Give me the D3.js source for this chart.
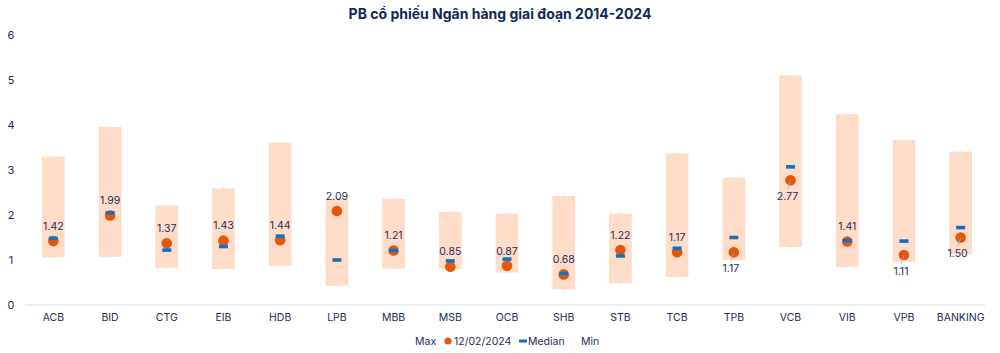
<!DOCTYPE html>
<html>
<head>
<meta charset="utf-8">
<script src="https://cdn.jsdelivr.net/npm/d3@7"></script>
<style>
  body { margin: 0; background: #fff; }
  svg { display: block; font-family: Inter, "Noto Sans", sans-serif; }
</style>
</head>
<body>
<svg id="chart"></svg>
<script>
// Data
const categories = ["ACB", "BID", "CTG", "EIB", "HDB", "LPB", "MBB", "MSB", "OCB", "SHB", "STB", "TCB", "TPB", "VCB", "VIB", "VPB", "BANKING"];
const maxValues = [3.30, 3.96, 2.21, 2.59, 3.61, 2.37, 2.36, 2.07, 2.03, 2.42, 2.03, 3.37, 2.83, 5.10, 4.24, 3.66, 3.41];
const minValues = [1.06, 1.07, 0.83, 0.80, 0.87, 0.43, 0.81, 0.79, 0.72, 0.35, 0.48, 0.62, 1.00, 1.29, 0.85, 0.96, 1.13];
const medianValues = [1.48, 2.05, 1.22, 1.30, 1.53, 1.00, 1.21, 0.98, 1.02, 0.70, 1.09, 1.26, 1.50, 3.07, 1.43, 1.42, 1.72];
const currentValues = [1.42, 1.99, 1.37, 1.43, 1.44, 2.09, 1.21, 0.85, 0.87, 0.68, 1.22, 1.17, 1.17, 2.77, 1.41, 1.11, 1.50];
const yTicks = [0, 1, 2, 3, 4, 5, 6];
const labelsBelow = ["TPB", "VCB", "VPB", "BANKING"];

const width = 1000, height = 353;
const navy = "#1f2d5c";

const svg = d3.select("#chart")
    .attr("width", width)
    .attr("height", height);

// Scales
const x = d3.scaleBand()
    .domain(categories)
    .range([25, 989])
    .paddingInner(0.6)
    .paddingOuter(0.3);

const y = d3.scaleLinear()
    .domain([0, 6])
    .range([305, 35]);

const rows = categories.map((c, i) => ({
    cat: c,
    max: maxValues[i],
    min: minValues[i],
    median: medianValues[i],
    value: currentValues[i],
    below: labelsBelow.includes(c)
}));

// Title
svg.append("text")
    .attr("x", 500)
    .attr("y", 19)
    .attr("text-anchor", "middle")
    .attr("fill", "#14285a")
    .style("font-size", "14px")
    .style("font-weight", "700")
    .text("PB cổ phiếu Ngân hàng giai đoạn 2014-2024");

// Y axis labels (no axis line)
svg.append("g")
    .selectAll("text")
    .data(yTicks)
    .enter()
    .append("text")
    .attr("x", 11)
    .attr("y", d => y(d))
    .attr("dy", "0.35em")
    .attr("text-anchor", "middle")
    .attr("fill", navy)
    .style("font-size", "11px")
    .text(d => d);

// X axis
const xAxis = svg.append("g")
    .attr("transform", `translate(0,${y(0)})`)
    .call(d3.axisBottom(x).tickSize(0).tickPadding(9));
xAxis.select(".domain")
    .attr("stroke", "#d3dcf0")
    .attr("d", "M25,0H985");
xAxis.selectAll("text")
    .attr("fill", navy)
    .style("font-size", "10.5px")
    .style("font-family", "Inter, 'Noto Sans', sans-serif");

const plot = svg.append("g");

// Min-max range whiskers (thin, behind bars)
plot.selectAll(".whisker")
    .data(rows)
    .enter()
    .append("line")
    .attr("x1", d => x(d.cat) + x.bandwidth() / 2)
    .attr("x2", d => x(d.cat) + x.bandwidth() / 2)
    .attr("y1", d => y(d.max) - 1)
    .attr("y2", d => y(d.min) + 1)
    .attr("stroke", "#c9c9c9")
    .attr("stroke-width", 0.7);

// Range bars
plot.selectAll(".range")
    .data(rows)
    .enter()
    .append("rect")
    .attr("x", d => x(d.cat))
    .attr("width", x.bandwidth())
    .attr("y", d => y(d.max))
    .attr("height", d => y(d.min) - y(d.max))
    .attr("fill", "#ffdcc8");

// Current value dots
plot.selectAll(".dot")
    .data(rows)
    .enter()
    .append("circle")
    .attr("cx", d => x(d.cat) + x.bandwidth() / 2)
    .attr("cy", d => y(d.value))
    .attr("r", 5.3)
    .attr("fill", "#e2570c");

// Median dashes
plot.selectAll(".median")
    .data(rows)
    .enter()
    .append("rect")
    .attr("x", d => x(d.cat) + x.bandwidth() / 2 - 4.5)
    .attr("y", d => y(d.median) - 1.8)
    .attr("width", 9)
    .attr("height", 3.6)
    .attr("fill", "#1170c2");

// Leader lines for labels placed below
plot.selectAll(".leader")
    .data(rows.filter(d => d.below))
    .enter()
    .append("line")
    .attr("x1", d => x(d.cat) + x.bandwidth() / 2)
    .attr("y1", d => y(d.value))
    .attr("x2", d => x(d.cat) + x.bandwidth() / 2 - 3)
    .attr("y2", d => y(d.value) + 9)
    .attr("stroke", "#8fb0d8")
    .attr("stroke-width", 0.8);

// Value labels
plot.selectAll(".label")
    .data(rows)
    .enter()
    .append("text")
    .attr("x", d => x(d.cat) + x.bandwidth() / 2 + (d.below ? -3 : 0))
    .attr("y", d => y(d.value) + (d.below ? 16 : -15))
    .attr("dy", "0.35em")
    .attr("text-anchor", "middle")
    .attr("fill", navy)
    .style("font-size", "10.5px")
    .text(d => d.value.toFixed(2));

// Legend
const legend = svg.append("g")
    .attr("transform", "translate(0,341)")
    .attr("fill", navy)
    .style("font-size", "10.5px");

legend.append("text")
    .attr("x", 415).attr("dy", "0.35em")
    .text("Max");
legend.append("circle")
    .attr("cx", 448).attr("cy", 0).attr("r", 3.6)
    .attr("fill", "#e2570c");
legend.append("text")
    .attr("x", 454).attr("dy", "0.35em")
    .text("12/02/2024");
legend.append("rect")
    .attr("x", 519).attr("y", -1.5).attr("width", 8).attr("height", 3)
    .attr("fill", "#1170c2");
legend.append("text")
    .attr("x", 528).attr("dy", "0.35em")
    .text("Median");
legend.append("text")
    .attr("x", 581).attr("dy", "0.35em")
    .text("Min");
</script>
</body>
</html>
